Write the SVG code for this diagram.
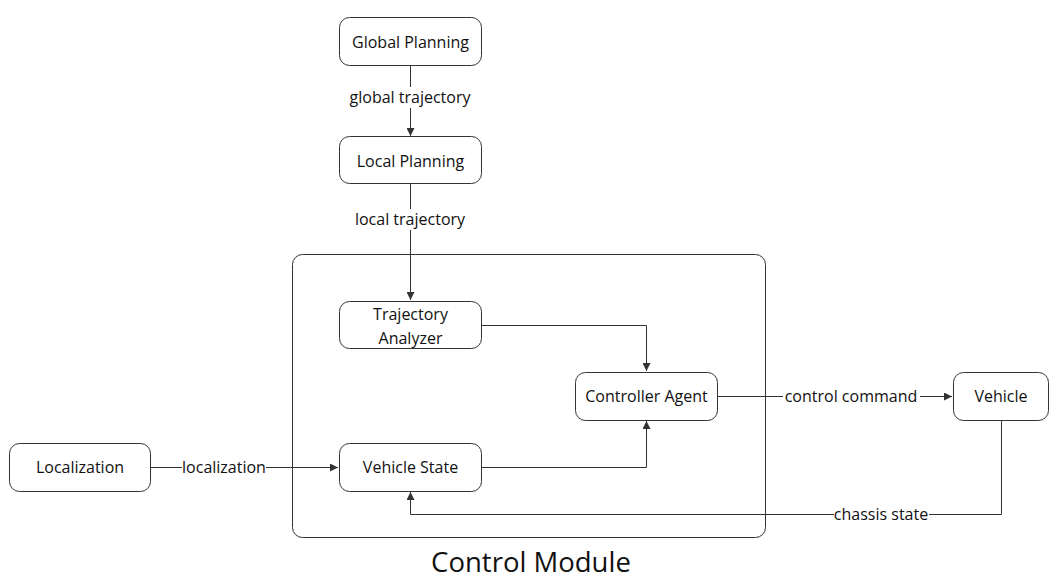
<svg xmlns="http://www.w3.org/2000/svg" width="1058" height="586" viewBox="0 0 1058 586">
<defs>
<marker id="arr" viewBox="0 0 10 10" refX="10" refY="5" markerWidth="8" markerHeight="8" markerUnits="userSpaceOnUse" orient="auto">
<path d="M0,0 L10,5 L0,10 z" fill="#333"/>
</marker>
<style>
.node{fill:#fff;stroke:#333;stroke-width:1}
.t{font-family:"Open Sans","Noto Sans",sans-serif;font-size:16px;fill:#111;text-anchor:middle;dominant-baseline:central}
.c{fill:none;stroke:#333;stroke-width:1}
.lbl{fill:#fff}
</style>
</defs>
<rect width="1058" height="586" fill="#fff"/>
<g id="control-module">
<rect x="292.5" y="254.5" width="473" height="283" rx="10" class="c"/>
<text x="531" y="561" class="t" style="font-size:27.5px">Control Module</text>
</g>
<g id="connectors">
<path class="c" d="M410.5,65 V136" marker-end="url(#arr)"/>
<path class="c" d="M410.5,184 V300" marker-end="url(#arr)"/>
<path class="c" d="M481,325.5 H646.5 V371" marker-end="url(#arr)"/>
<path class="c" d="M481,467.5 H646.5 V421" marker-end="url(#arr)"/>
<path class="c" d="M150,467.5 H338" marker-end="url(#arr)"/>
<path class="c" d="M717,396.5 H952" marker-end="url(#arr)"/>
<path class="c" d="M1001.5,420 V514.5 H410.5 V492" marker-end="url(#arr)"/>
<rect class="lbl" x="348" y="87" width="124" height="21"/>
<text x="410" y="97" class="t">global trajectory</text>
<rect class="lbl" x="352" y="209" width="116" height="21"/>
<text x="410" y="219" class="t">local trajectory</text>
<rect class="lbl" x="182" y="457" width="84" height="21"/>
<text x="224" y="467" class="t">localization</text>
<rect class="lbl" x="783" y="386" width="137" height="21"/>
<text x="851" y="396" class="t">control command</text>
<rect class="lbl" x="834" y="504" width="95" height="21"/>
<text x="881" y="514" class="t">chassis state</text>
</g>
<g id="global-planning">
<rect x="339.5" y="17.5" width="142" height="48" rx="10" class="node"/>
<text x="410.5" y="42" class="t">Global Planning</text>
</g>
<g id="local-planning">
<rect x="339.5" y="136.5" width="142" height="47" rx="10" class="node"/>
<text x="410.5" y="161" class="t">Local Planning</text>
</g>
<g id="trajectory-analyzer">
<rect x="339.5" y="301.5" width="142" height="47" rx="10" class="node"/>
<text x="410.5" y="314" class="t">Trajectory</text>
<text x="410.5" y="338" class="t">Analyzer</text>
</g>
<g id="vehicle-state">
<rect x="339.5" y="443.5" width="142" height="48" rx="10" class="node"/>
<text x="410.5" y="467" class="t">Vehicle State</text>
</g>
<g id="localization">
<rect x="9.5" y="443.5" width="141" height="48" rx="10" class="node"/>
<text x="80" y="467" class="t">Localization</text>
</g>
<g id="controller-agent">
<rect x="575.5" y="372.5" width="142" height="48" rx="10" class="node"/>
<text x="646.5" y="396" class="t">Controller Agent</text>
</g>
<g id="vehicle">
<rect x="953.5" y="372.5" width="95" height="48" rx="10" class="node"/>
<text x="1001" y="396" class="t">Vehicle</text>
</g>
</svg>
